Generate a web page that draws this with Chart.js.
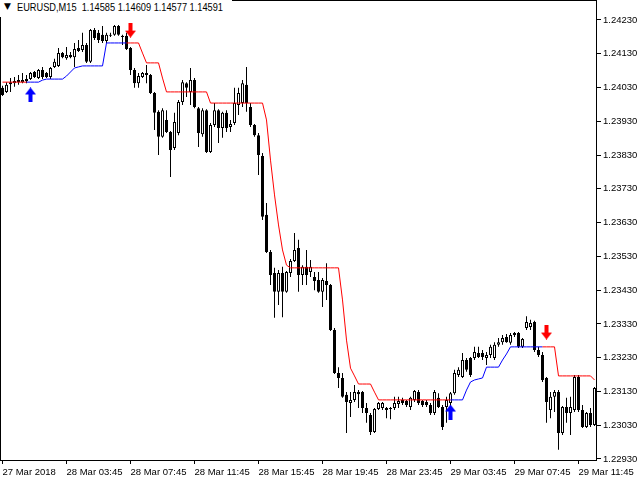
<!DOCTYPE html>
<html><head><meta charset="utf-8">
<script src="https://cdn.jsdelivr.net/npm/chart.js@4.4.1/dist/chart.umd.min.js"></script>
<style>
html,body{margin:0;padding:0;background:#fff;}
#wrap{position:relative;width:640px;height:480px;}
#hdr{position:absolute;left:0;top:0;height:17px;width:232px;background:#fff;}
#hdr .tri{position:absolute;left:4px;top:1px;font:9px 'DejaVu Sans',sans-serif;color:#000;}
#hdr .txt{position:absolute;left:17px;top:0;color:#000;white-space:pre;font:11px 'Liberation Sans',sans-serif;line-height:15px;transform:scaleX(0.84);transform-origin:0 0;}
</style></head>
<body><div id="wrap"><canvas id="c" width="640" height="480"></canvas><div id="hdr"><span class="tri">▼</span><span class="txt">EURUSD,M15  1.14585 1.14609 1.14577 1.14591</span></div></div>
<script>
// Tick labels along the time axis (one every 16 bars of M15)
const tickLabels = ['27 Mar 2018','28 Mar 03:45','28 Mar 07:45','28 Mar 11:45','28 Mar 15:45','28 Mar 19:45','28 Mar 23:45','29 Mar 03:45','29 Mar 07:45','29 Mar 11:45'];
const tickBars = [0,16,32,48,64,80,96,112,128,144];
const priceTicks = [1.22930,1.23030,1.23130,1.23230,1.23330,1.23430,1.23530,1.23630,1.23730,1.23830,1.23930,1.24030,1.24130,1.24230];

const openP = [1.24029,1.24017,1.24040,1.24043,1.24052,1.24046,1.24049,1.24055,1.24076,1.24058,1.24082,1.24073,1.24061,1.24091,1.24094,1.24132,1.24117,1.24126,1.24120,1.24147,1.24141,1.24156,1.24106,1.24200,1.24192,1.24186,1.24168,1.24183,1.24186,1.24212,1.24183,1.24183,1.24147,1.24082,1.24043,1.24061,1.24073,1.24067,1.24014,1.23958,1.23884,1.23934,1.23898,1.23851,1.23895,1.23987,1.24043,1.24017,1.24052,1.23969,1.23892,1.23963,1.23839,1.23919,1.23963,1.23910,1.23955,1.23913,1.23925,1.23978,1.23984,1.24038,1.23972,1.23919,1.23889,1.23827,1.23653,1.23543,1.23481,1.23425,1.23481,1.23425,1.23481,1.23516,1.23555,1.23475,1.23499,1.23484,1.23469,1.23460,1.23425,1.23457,1.23445,1.23312,1.23185,1.23170,1.23120,1.23096,1.23105,1.23128,1.23128,1.23081,1.23060,1.23010,1.23078,1.23081,1.23081,1.23081,1.23081,1.23093,1.23105,1.23102,1.23084,1.23105,1.23128,1.23102,1.23099,1.23090,1.23066,1.23111,1.23084,1.23084,1.23096,1.23125,1.23179,1.23173,1.23223,1.23229,1.23229,1.23244,1.23244,1.23229,1.23238,1.23229,1.23268,1.23276,1.23291,1.23274,1.23297,1.23303,1.23262,1.23318,1.23321,1.23336,1.23253,1.23238,1.23170,1.23075,1.23114,1.23128,1.23007,1.23084,1.23066,1.23075,1.23173,1.23075,1.23025,1.23066,1.23031];
const highP = [1.24035,1.24046,1.24058,1.24061,1.24067,1.24073,1.24067,1.24076,1.24079,1.24085,1.24091,1.24076,1.24091,1.24115,1.24147,1.24135,1.24150,1.24135,1.24162,1.24171,1.24192,1.24162,1.24203,1.24206,1.24200,1.24212,1.24192,1.24192,1.24215,1.24215,1.24186,1.24192,1.24150,1.24088,1.24073,1.24076,1.24097,1.24070,1.24017,1.23963,1.23969,1.23963,1.23901,1.23955,1.23993,1.24052,1.24046,1.24088,1.24058,1.23972,1.23969,1.23966,1.23925,1.23984,1.23966,1.23958,1.23963,1.23934,1.24029,1.24029,1.24052,1.24091,1.23984,1.23922,1.23895,1.23836,1.23688,1.23549,1.23496,1.23490,1.23499,1.23487,1.23522,1.23599,1.23579,1.23504,1.23549,1.23519,1.23484,1.23484,1.23466,1.23510,1.23448,1.23318,1.23202,1.23185,1.23128,1.23128,1.23149,1.23134,1.23131,1.23096,1.23066,1.23081,1.23099,1.23099,1.23084,1.23084,1.23114,1.23114,1.23111,1.23105,1.23114,1.23134,1.23134,1.23105,1.23105,1.23096,1.23134,1.23125,1.23090,1.23114,1.23128,1.23194,1.23202,1.23244,1.23229,1.23232,1.23262,1.23262,1.23253,1.23247,1.23268,1.23276,1.23288,1.23297,1.23300,1.23303,1.23306,1.23306,1.23288,1.23353,1.23342,1.23339,1.23262,1.23247,1.23173,1.23128,1.23134,1.23134,1.23087,1.23111,1.23114,1.23179,1.23179,1.23090,1.23069,1.23081,1.23143];
const lowP = [1.24005,1.24014,1.24017,1.24032,1.24038,1.24043,1.24043,1.24052,1.24058,1.24055,1.24055,1.24058,1.24055,1.24088,1.24091,1.24117,1.24112,1.24117,1.24091,1.24135,1.24135,1.24103,1.24103,1.24171,1.24162,1.24162,1.24162,1.24180,1.24183,1.24183,1.24156,1.24141,1.24067,1.24029,1.24029,1.24058,1.24043,1.24011,1.23904,1.23830,1.23881,1.23895,1.23765,1.23845,1.23889,1.23978,1.24002,1.23978,1.23969,1.23854,1.23884,1.23836,1.23836,1.23913,1.23866,1.23881,1.23898,1.23898,1.23919,1.23949,1.23972,1.23958,1.23913,1.23884,1.23771,1.23638,1.23540,1.23445,1.23348,1.23386,1.23350,1.23422,1.23469,1.23513,1.23425,1.23445,1.23445,1.23469,1.23430,1.23422,1.23380,1.23401,1.23309,1.23182,1.23140,1.23111,1.23007,1.23054,1.23099,1.23081,1.23066,1.23037,1.23001,1.23007,1.23075,1.23075,1.23051,1.23048,1.23075,1.23081,1.23090,1.23084,1.23075,1.23099,1.23090,1.23084,1.23084,1.23060,1.23060,1.23081,1.23016,1.23037,1.23081,1.23120,1.23173,1.23170,1.23188,1.23173,1.23223,1.23229,1.23223,1.23208,1.23229,1.23223,1.23262,1.23268,1.23274,1.23268,1.23291,1.23259,1.23259,1.23312,1.23312,1.23247,1.23232,1.23158,1.23037,1.23051,1.23069,1.22957,1.23001,1.23037,1.23001,1.23069,1.23069,1.23022,1.23022,1.23025,1.23028];
const closeP = [1.24008,1.24038,1.24046,1.24049,1.24046,1.24052,1.24055,1.24073,1.24061,1.24082,1.24061,1.24061,1.24088,1.24106,1.24132,1.24120,1.24126,1.24120,1.24144,1.24138,1.24156,1.24106,1.24200,1.24177,1.24171,1.24168,1.24186,1.24186,1.24212,1.24186,1.24180,1.24144,1.24082,1.24043,1.24064,1.24073,1.24067,1.24014,1.23955,1.23884,1.23963,1.23898,1.23845,1.23928,1.23987,1.24046,1.24029,1.24052,1.23972,1.23895,1.23963,1.23839,1.23919,1.23963,1.23910,1.23955,1.23910,1.23922,1.23984,1.24014,1.24043,1.23984,1.23919,1.23889,1.23830,1.23647,1.23543,1.23475,1.23425,1.23481,1.23425,1.23484,1.23516,1.23549,1.23475,1.23499,1.23475,1.23499,1.23457,1.23425,1.23460,1.23445,1.23312,1.23185,1.23170,1.23114,1.23099,1.23105,1.23128,1.23122,1.23081,1.23066,1.23010,1.23078,1.23096,1.23096,1.23075,1.23078,1.23096,1.23102,1.23096,1.23090,1.23111,1.23131,1.23096,1.23090,1.23090,1.23066,1.23128,1.23084,1.23025,1.23105,1.23125,1.23185,1.23194,1.23223,1.23194,1.23179,1.23247,1.23232,1.23232,1.23238,1.23262,1.23268,1.23276,1.23288,1.23276,1.23297,1.23303,1.23262,1.23285,1.23336,1.23333,1.23253,1.23238,1.23164,1.23099,1.23114,1.23128,1.23007,1.23084,1.23066,1.23084,1.23173,1.23075,1.23025,1.23066,1.23031,1.23140];

// Trend line (down = red, up = blue)
const trendDown = [1.24046,1.24046,1.24046,1.24046,1.24046,1.24046,1.24046,null,null,null,null,null,null,null,null,null,null,null,null,null,null,null,null,null,null,null,null,null,null,null,null,1.24162,1.24162,1.24162,1.24162,1.24132,1.24103,1.24103,1.24103,1.24103,1.24058,1.24017,1.24017,1.24017,1.24017,1.24017,1.24017,1.24017,1.24017,1.24017,1.24017,1.24017,1.23984,1.23984,1.23984,1.23984,1.23984,1.23984,1.23984,1.23984,1.23984,1.23984,1.23984,1.23984,1.23984,1.23984,1.23934,1.23815,1.23712,1.23623,1.23549,1.23504,1.23496,1.23496,1.23496,1.23496,1.23496,1.23496,1.23496,1.23496,1.23496,1.23496,1.23496,1.23496,1.23496,1.23401,1.23282,1.23199,1.23176,1.23152,1.23152,1.23152,1.23152,1.23128,1.23105,1.23105,1.23105,1.23105,1.23105,1.23105,1.23105,1.23105,1.23105,1.23105,1.23105,1.23105,1.23105,1.23105,1.23105,1.23105,1.23105,1.23105,1.23105,null,null,null,null,null,null,null,null,null,null,null,null,null,null,null,null,null,null,null,null,null,null,1.23262,1.23262,1.23262,1.23262,1.23176,1.23176,1.23176,1.23176,1.23176,1.23176,1.23176,1.23176,1.23176,1.23164];
const trendUp = [null,null,null,null,null,null,1.24046,1.24046,1.24046,1.24046,1.24052,1.24055,1.24055,1.24055,1.24055,1.24055,1.24064,1.24076,1.24088,1.24091,1.24094,1.24094,1.24094,1.24094,1.24094,1.24094,1.24162,1.24162,1.24162,1.24162,1.24162,1.24162,null,null,null,null,null,null,null,null,null,null,null,null,null,null,null,null,null,null,null,null,null,null,null,null,null,null,null,null,null,null,null,null,null,null,null,null,null,null,null,null,null,null,null,null,null,null,null,null,null,null,null,null,null,null,null,null,null,null,null,null,null,null,null,null,null,null,null,null,null,null,null,null,null,null,null,null,null,null,null,null,1.23105,1.23105,1.23105,1.23105,1.23134,1.23158,1.23164,1.23167,1.23170,1.23202,1.23202,1.23202,1.23202,1.23223,1.23241,1.23262,1.23262,1.23262,1.23262,1.23262,1.23262,1.23262,1.23262,1.23262,null,null,null,null,null,null,null,null,null,null,null,null,null];

// Signal arrows
const upArrowBars = [7, 112];
const upArrowPrices = [1.24008, 1.23069];
const downArrowBars = [32, 136];
const downArrowPrices = [1.24200, 1.23306];

function arrowImage(color, up) {
  const c = document.createElement('canvas');
  c.width = 11; c.height = 15;
  const g = c.getContext('2d');
  g.fillStyle = color;
  g.beginPath();
  if (up) {
    g.moveTo(5.5, 0); g.lineTo(11, 7); g.lineTo(7.5, 7); g.lineTo(7.5, 15);
    g.lineTo(3.5, 15); g.lineTo(3.5, 7); g.lineTo(0, 7);
  } else {
    g.moveTo(5.5, 15); g.lineTo(11, 8); g.lineTo(7.5, 8); g.lineTo(7.5, 0);
    g.lineTo(3.5, 0); g.lineTo(3.5, 8); g.lineTo(0, 8);
  }
  g.closePath(); g.fill();
  return c;
}

const idx = openP.map((_, i) => i);
const wickData = idx.map(i => ({x: i, y: [lowP[i], highP[i]]}));
const bodyData = idx.map(i => ({x: i, y: [openP[i], closeP[i]]}));
const bodyColors = idx.map(i => closeP[i] >= openP[i] ? '#ffffff' : '#000000');
const downLine = trendDown.map((v, i) => ({x: i, y: v}));
const upLine = trendUp.map((v, i) => ({x: i, y: v}));
const upPts = upArrowBars.map((b, k) => ({x: b, y: upArrowPrices[k]}));
const dnPts = downArrowBars.map((b, k) => ({x: b, y: downArrowPrices[k]}));

const FONT = {family: "'Liberation Sans',sans-serif", size: 9.5};

const framePlugin = {
  id: 'frame',
  afterDraw(chart) {
    const a = chart.chartArea, ctx = chart.ctx;
    ctx.save();
    ctx.strokeStyle = '#000'; ctx.lineWidth = 1;
    ctx.strokeRect(a.left + 0.5, a.top + 0.5, a.right - a.left - 1, a.bottom - a.top);
    ctx.restore();
  }
};

new Chart(document.getElementById('c'), {
  type: 'bar',
  data: {
    datasets: [
      {type: 'line', label: 'down', data: downLine, borderColor: '#ff0000', borderWidth: 1, pointRadius: 0, spanGaps: false, tension: 0, order: 0},
      {type: 'line', label: 'up', data: upLine, borderColor: '#0000ff', borderWidth: 1, pointRadius: 0, spanGaps: false, tension: 0, order: 0},
      {type: 'line', label: 'buy', data: upPts, showLine: false, pointStyle: arrowImage('#0000ff', true), order: -1},
      {type: 'line', label: 'sell', data: dnPts, showLine: false, pointStyle: arrowImage('#ff0000', false), order: -1},
      {label: 'body', data: bodyData, backgroundColor: bodyColors, borderColor: '#000', borderWidth: 1, borderSkipped: false, barThickness: 3, grouped: false, inflateAmount: 0, order: 1},
      {label: 'wick', data: wickData, backgroundColor: '#000', borderWidth: 0, barThickness: 1, grouped: false, inflateAmount: 0, order: 2}
    ]
  },
  options: {
    responsive: false,
    devicePixelRatio: 1,
    animation: false,
    events: [],
    layout: {padding: 0, autoPadding: false},
    plugins: {legend: {display: false}, tooltip: {enabled: false}, title: {display: false}},
    scales: {
      x: {
        type: 'linear', min: -0.625, max: 148.625, offset: false,
        afterBuildTicks: s => { s.ticks = tickBars.map(v => ({value: v})); },
        afterFit: s => { s.height = 20; s.paddingLeft = 0; s.paddingRight = 0; },
        grid: {drawOnChartArea: false, drawTicks: true, tickLength: 4, color: '#000', offset: false},
        border: {display: false},
        ticks: {autoSkip: false, maxRotation: 0, minRotation: 0, align: 'start', padding: 3, color: '#000', font: FONT,
          callback: (v, i) => tickLabels[i]}
      },
      y: {
        type: 'linear', position: 'right', min: 1.22927, max: 1.242892,
        afterBuildTicks: s => { s.ticks = priceTicks.map(v => ({value: v})); },
        afterFit: s => { s.width = 43; s.paddingTop = 0; s.paddingBottom = 0; },
        grid: {drawOnChartArea: false, drawTicks: true, tickLength: 4, color: '#000'},
        border: {display: false},
        ticks: {autoSkip: false, padding: 2, color: '#000', font: FONT, callback: v => Number(v).toFixed(5)}
      }
    }
  },
  plugins: [framePlugin]
});
</script>
</body></html>
